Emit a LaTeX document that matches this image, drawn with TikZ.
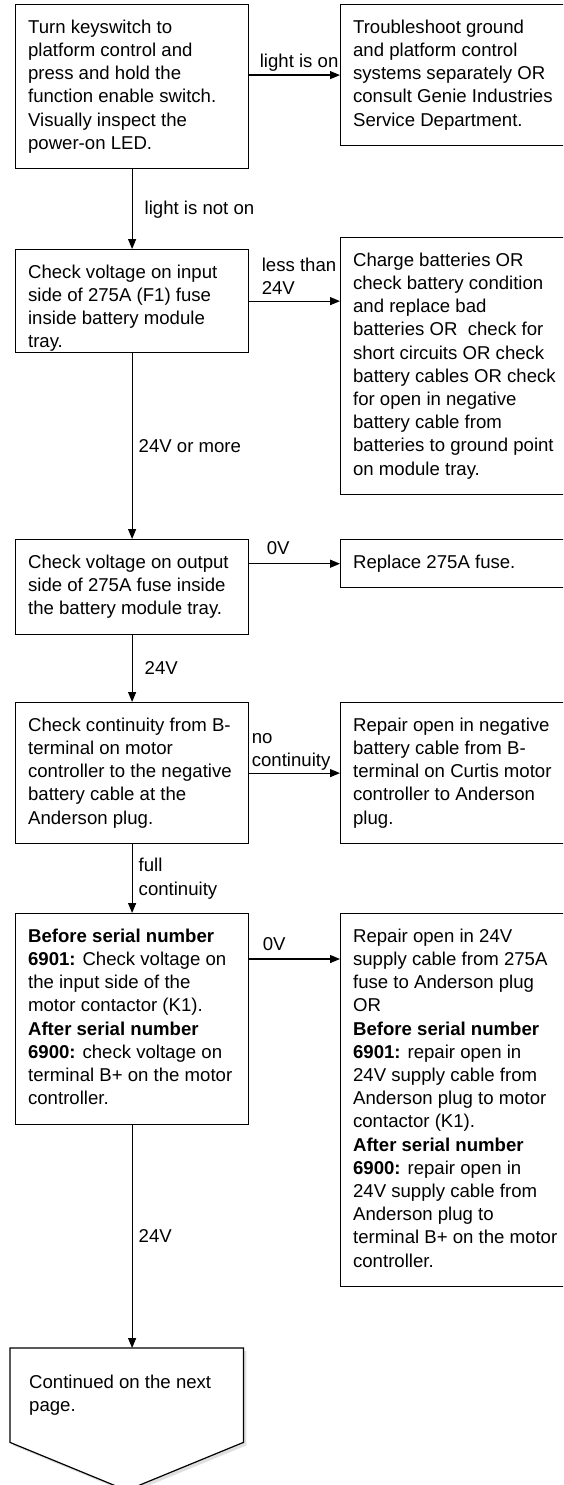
\documentclass[tikz,border=0pt]{standalone}
\usepackage{fontspec}
\setmainfont{Liberation Sans}
\usepackage{tikz}
\usetikzlibrary{arrows.meta,shadows}
\pgfdeclarelayer{background}
\pgfsetlayers{background,main}
\newcommand{\boxfont}{\fontsize{18.6}{23.2}\selectfont}
\newcommand{\boxlines}[2][208pt]{\makebox[#1][l]{\begin{tabular}[t]{@{}l@{}}#2\end{tabular}}}

\begin{document}
\begin{tikzpicture}[x=1pt,y=-1pt,
  stepbox/.style={draw, line width=1.2pt, anchor=north west,
    inner xsep=12.5pt, inner ysep=12.5pt, font=\boxfont},
  flow/.style={line width=1.2pt, -{Triangle[length=10pt,width=8pt]}},
  lbl/.style={font=\boxfont, inner sep=0pt, align=left}]
\clip (0,0) rectangle (563,1485);

% Left column: checks
\node[stepbox] (keysw) at (15,4) {\boxlines{Turn keyswitch to\\platform control and\\press and hold the\\function enable switch.\\Visually inspect the\\power-on LED.}};
\node[stepbox, text depth=61.8pt] (infuse) at (15,249) {\boxlines{Check voltage on input\\side of 275A (F1) fuse\\inside battery module\\tray.}};
\node[stepbox] (outfuse) at (15,539) {\boxlines{Check voltage on output\\side of 275A fuse inside\\the battery module tray.}};
\node[stepbox] (contin) at (15,702) {\boxlines{Check continuity from B-\\terminal on motor\\controller to the negative\\battery cable at the\\Anderson plug.}};
\node[stepbox] (serial) at (15,913) {\boxlines{\textbf{Before serial number}\\\textbf{6901:} Check voltage on\\the input side of the\\motor contactor (K1).\\\textbf{After serial number}\\\textbf{6900:} check voltage on\\terminal B+ on the motor\\controller.}};

% Right column: fixes
\node[stepbox] (ctrlsys) at (340,4) {\boxlines[230pt]{Troubleshoot ground\\and platform control\\systems separately OR\\consult Genie Industries\\Service Department.}};
\node[stepbox] (battfix) at (340,237) {\boxlines[230pt]{Charge batteries OR\\check battery condition\\and replace bad\\batteries OR\ \ check for\\short circuits OR check\\battery cables OR check\\for open in negative\\battery cable from\\batteries to ground point\\on module tray.}};
\node[stepbox] (newfuse) at (340,539) {\boxlines[230pt]{Replace 275A fuse.}};
\node[stepbox] (negfix) at (340,702) {\boxlines[230pt]{Repair open in negative\\battery cable from B-\\terminal on Curtis motor\\controller to Anderson\\plug.}};
\node[stepbox] (supplyfix) at (340,913) {\boxlines[230pt]{Repair open in 24V\\supply cable from 275A\\fuse to Anderson plug\\OR\\\textbf{Before serial number}\\\textbf{6901:} repair open in\\24V supply cable from\\Anderson plug to motor\\contactor (K1).\\\textbf{After serial number}\\\textbf{6900:} repair open in\\24V supply cable from\\Anderson plug to\\terminal B+ on the motor\\controller.}};

% Off-page connector
\node[font=\boxfont, inner ysep=0pt, inner xsep=19pt, anchor=north west, minimum height=94pt] (nextpg) at (10,1348) {\boxlines[195pt]{Continued on the next\\page.}};
\begin{pgfonlayer}{background}
\draw[line width=1.2pt, fill=white, drop shadow={shadow xshift=3pt, shadow yshift=-3pt, opacity=0.25}]
  (nextpg.north west) -- (nextpg.north east) -- (nextpg.south east)
  -- ([yshift=-48pt]nextpg.south) -- (nextpg.south west) -- cycle;
\end{pgfonlayer}

% Main flow
\draw[flow] (keysw.south) -- (infuse.north) node[lbl, midway, right, xshift=12pt] {light is not on};
\draw[flow] (infuse.south) -- (outfuse.north) node[lbl, midway, right, xshift=6pt] {24V or more};
\draw[flow] (outfuse.south) -- (contin.north) node[lbl, midway, right, xshift=12pt] {24V};
\draw[flow] (contin.south) -- (serial.north) node[lbl, midway, right, xshift=6pt] {full\\continuity};
\draw[flow] (serial.south) -- (serial.south |- nextpg.north) node[lbl, midway, right, xshift=6pt] {24V};

% Branches
\draw[flow] (keysw.east |- ctrlsys.west) -- (ctrlsys.west) node[lbl, above left, xshift=-1pt, yshift=3pt] {light is on};
\draw[flow] (infuse.east) -- (infuse.east -| battfix.west) node[lbl, pos=0, above right, xshift=12pt, yshift=6pt] {less than\\24V};
\draw[flow] (outfuse.east |- newfuse.west) -- (newfuse.west) node[lbl, pos=0, above right, xshift=17pt, yshift=8pt] {0V};
\draw[flow] (contin.east) -- (negfix.west) node[lbl, pos=0, above right, xshift=2pt, yshift=2pt] {no\\continuity};
\coordinate (tap) at ([yshift=-46pt]serial.north east);
\draw[flow] (tap) -- (tap -| supplyfix.west) node[lbl, pos=0, above right, xshift=13pt, yshift=8pt] {0V};
\end{tikzpicture}
\end{document}
